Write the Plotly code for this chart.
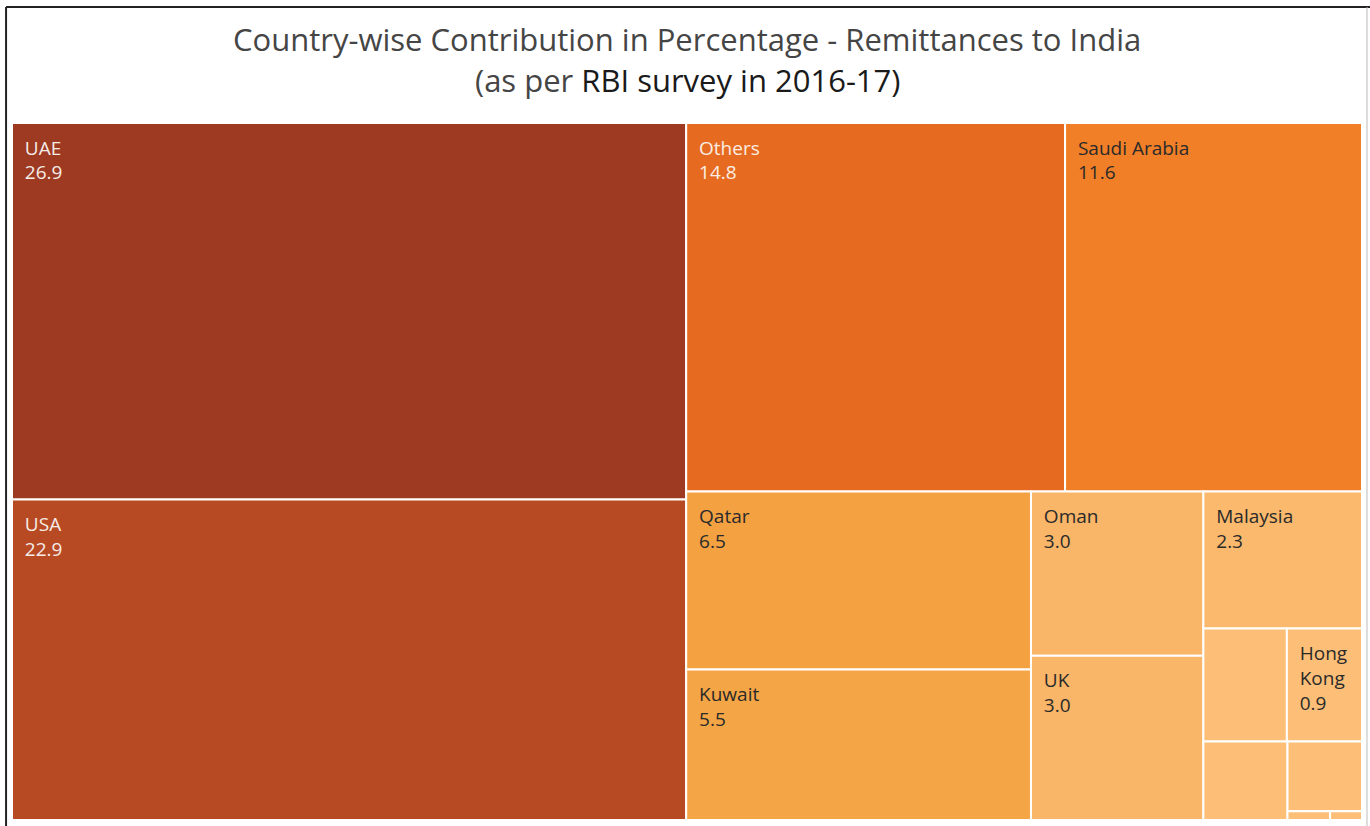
import plotly.graph_objects as go

# Data (percent share of remittances to India, RBI survey 2016-17)
countries = ["UAE", "USA", "Others", "Saudi Arabia", "Qatar", "Kuwait",
             "Oman", "UK", "Malaysia", "Singapore", "Hong Kong",
             "Canada", "Australia", "Bahrain", "Nepal"]
shares = [26.9, 22.9, 14.8, 11.6, 6.5, 5.5,
          3.0, 3.0, 2.3, 1.0, 0.9,
          0.7, 0.55, 0.04, 0.03]
display_names = ["UAE", "USA", "Others", "Saudi Arabia", "Qatar", "Kuwait",
                 "Oman", "UK", "Malaysia", "", "Hong<br>Kong",
                 "", "", "", ""]

# Styles
tile_colors = ["#9E3A21", "#B84A23", "#E66B21", "#F07F28", "#F4A142", "#F4A545",
               "#F9B568", "#F9B568", "#FAB96C", "#FDBF78", "#FDBF78",
               "#FDBF78", "#FDBF78", "#FDBF78", "#FDBF78"]
text_colors = ["#F5ECE8", "#F5ECE8", "#FBEDE2", "#2A2A2A", "#2A2A2A", "#2A2A2A",
               "#2A2A2A", "#2A2A2A", "#2A2A2A", "#2A2A2A", "#2A2A2A",
               "#2A2A2A", "#2A2A2A", "#2A2A2A", "#2A2A2A"]

pad = "\u00a0\u00a0"
spacer = "<span style='font-size:4px'>\u00a0</span><br>"
templates = []
for name in display_names:
    if name:
        lines = name.split("<br>")
        txt = "<br>".join(pad + l for l in lines)
        templates.append(spacer + txt + "<br>" + pad + "%{value:.1f}")
    else:
        templates.append(" ")

fig = go.Figure(go.Treemap(
    labels=countries,
    parents=[""] * len(countries),
    values=shares,
    sort=True,
    texttemplate=templates,
    textposition="top left",
    textfont=dict(family="Open Sans, sans-serif", size=19, color=text_colors),
    marker=dict(colors=tile_colors, line=dict(color="white", width=2),
                pad=dict(t=0, l=0, r=0, b=0)),
    tiling=dict(packing="squarify", squarifyratio=1.618, pad=0),
    pathbar=dict(visible=False),
    root=dict(color="white"),
    hoverinfo="label+value",
))

fig.update_layout(
    width=1370, height=826,
    margin=dict(l=12, r=8, t=123, b=6),
    paper_bgcolor="white",
    annotations=[
        dict(text="Country-wise Contribution in Percentage - Remittances to India",
             xref="paper", yref="paper", x=0.5, y=1.121, xanchor="center", yanchor="middle",
             showarrow=False, font=dict(family="Open Sans, sans-serif", size=31, color="#454545")),
        dict(text="(as per <span style='color:#1a1a1a'>RBI survey in 2016-17)</span>",
             xref="paper", yref="paper", x=0.5, y=1.0615, xanchor="center", yanchor="middle",
             showarrow=False, font=dict(family="Open Sans, sans-serif", size=31, color="#454545")),
    ],
    shapes=[
        dict(type="line", xref="paper", yref="paper", x0=-0.0044, x1=1.01,
             y0=1.1664, y1=1.1664, line=dict(color="#222", width=2)),
        dict(type="line", xref="paper", yref="paper", x0=-0.0044, x1=-0.0044,
             y0=1.1664, y1=-0.01, line=dict(color="#222", width=2)),
        dict(type="line", xref="paper", yref="paper", x0=1.0037, x1=1.0037,
             y0=1.1664, y1=-0.01, line=dict(color="#BBBBBB", width=1)),
    ],
)

fig.write_html("out.html")
